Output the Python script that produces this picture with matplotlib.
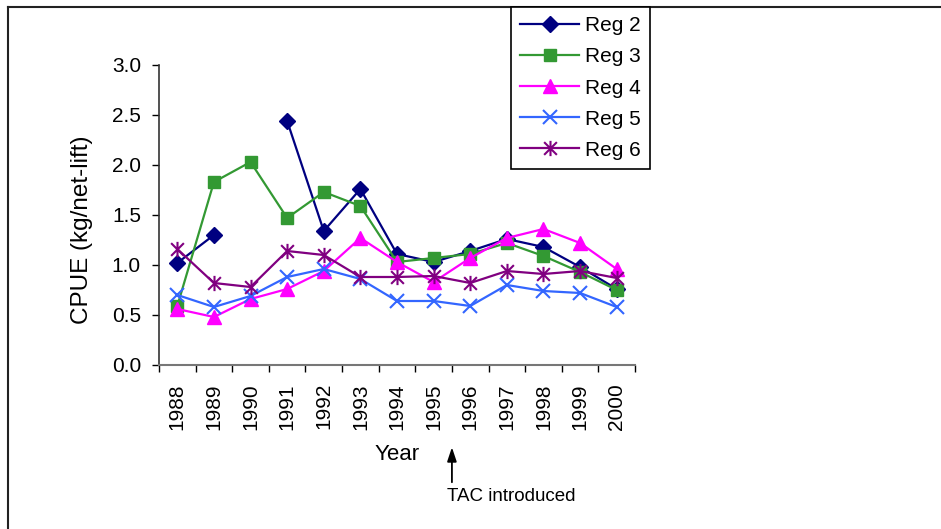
import numpy as np
import matplotlib
matplotlib.use("Agg")
import matplotlib.pyplot as plt
from matplotlib.path import Path
from matplotlib.lines import Line2D

# data (CPUE, kg/net-lift)
years = [1988, 1989, 1990, 1991, 1992, 1993, 1994,
         1995, 1996, 1997, 1998, 1999, 2000]
reg2 = [1.02, 1.30, np.nan, 2.44, 1.34, 1.76, 1.11, 1.03, 1.14, 1.26, 1.18, 0.98, 0.76]
reg3 = [0.59, 1.83, 2.03, 1.47, 1.73, 1.59, 1.03, 1.07, 1.11, 1.22, 1.09, 0.93, 0.75]
reg4 = [0.56, 0.48, 0.66, 0.76, 0.94, 1.27, 1.03, 0.83, 1.07, 1.27, 1.36, 1.22, 0.96]
reg5 = [0.70, 0.58, 0.69, 0.88, 0.96, 0.86, 0.64, 0.64, 0.59, 0.80, 0.74, 0.72, 0.58]
reg6 = [1.16, 0.82, 0.78, 1.14, 1.10, 0.88, 0.88, 0.89, 0.82, 0.94, 0.91, 0.94, 0.87]

series = [reg2, reg3, reg4, reg5, reg6]
labels = ["Reg 2", "Reg 3", "Reg 4", "Reg 5", "Reg 6"]
colors = ["#000080", "#339933", "#FF00FF", "#3366FF", "#800080"]

# excel style asterisk: x plus a vertical bar
asterisk = Path([(-0.5, -0.5), (0.5, 0.5), (-0.5, 0.5), (0.5, -0.5), (0, -0.6), (0, 0.6)],
                [Path.MOVETO, Path.LINETO, Path.MOVETO, Path.LINETO, Path.MOVETO, Path.LINETO])
markers = ["D", "s", "^", "x", asterisk]
msizes = [8, 8, 10, 10, 11]

plt.rcParams['font.family'] = ['Liberation Sans', 'DejaVu Sans']

fig = plt.figure(figsize=(9.41, 5.29), dpi=100)
ax = fig.add_axes([159/941, 1 - 365/529, 476/941, 300/529])

x = np.arange(len(years))
for i, vals in enumerate(series):
    ax.plot(x, vals, color=colors[i], marker=markers[i], markersize=msizes[i],
            markeredgewidth=1.5 if i >= 3 else 1.0, linewidth=1.6, label=labels[i])

ax.set_ylim(0, 3.0)
ax.set_xlim(-0.5, len(years) - 0.5)
ax.set_yticks(np.arange(0, 3.01, 0.5))
ax.set_yticklabels(["%.1f" % v for v in np.arange(0, 3.01, 0.5)])
ax.set_xticks(x)
ax.set_xticklabels([str(y) for y in years], rotation=90)
ax.set_xticks(np.arange(-0.5, len(years)), minor=True)

ax.tick_params(axis='y', direction='out', length=5, width=1, pad=8, labelsize=15)
ax.tick_params(axis='x', which='major', length=0, pad=13, labelsize=15)
ax.tick_params(axis='x', which='minor', direction='out', length=5, width=1)

for s in ['top', 'right']:
    ax.spines[s].set_visible(False)
ax.spines['left'].set_color('#333333')
ax.spines['bottom'].set_color('#777777')
ax.spines['left'].set_linewidth(1.2)
ax.spines['bottom'].set_linewidth(1.5)

ax.set_ylabel("CPUE (kg/net-lift)", fontsize=17.5)
ax.yaxis.set_label_coords(-0.139, 0.45)
ax.set_xlabel("Year", fontsize=16)
ax.xaxis.set_label_coords(0.5, -0.265)

# TAC arrow between 1995 and 1996
ax.annotate("", xy=(7.5, -0.265), xytext=(7.5, -0.40),
            xycoords=('data', 'axes fraction'), textcoords=('data', 'axes fraction'),
            arrowprops=dict(arrowstyle='-|>,head_length=0.6,head_width=0.2',
                            color='black', lw=1.3, mutation_scale=14),
            annotation_clip=False)
ax.text(7.36, -0.41, "TAC introduced", transform=ax.get_xaxis_transform(),
        ha='left', va='top', fontsize=13.5)

leg = fig.legend(loc='upper left', bbox_to_anchor=(511/941, 1 - 7/529), fontsize=15,
                 numpoints=1, handlelength=2.8, fancybox=False, framealpha=1,
                 edgecolor='black', labelspacing=0.58, borderpad=0.45, handletextpad=0.3,
                 borderaxespad=0)
leg.get_frame().set_linewidth(1.2)

# outer border of the original picture
fig.add_artist(Line2D([8/941, 8/941], [0, 1 - 7/529], transform=fig.transFigure,
                      color='#222222', lw=1.5))
fig.add_artist(Line2D([8/941, 1], [1 - 7/529, 1 - 7/529], transform=fig.transFigure,
                      color='#222222', lw=1.5))

fig.savefig("out.png", dpi=100)
